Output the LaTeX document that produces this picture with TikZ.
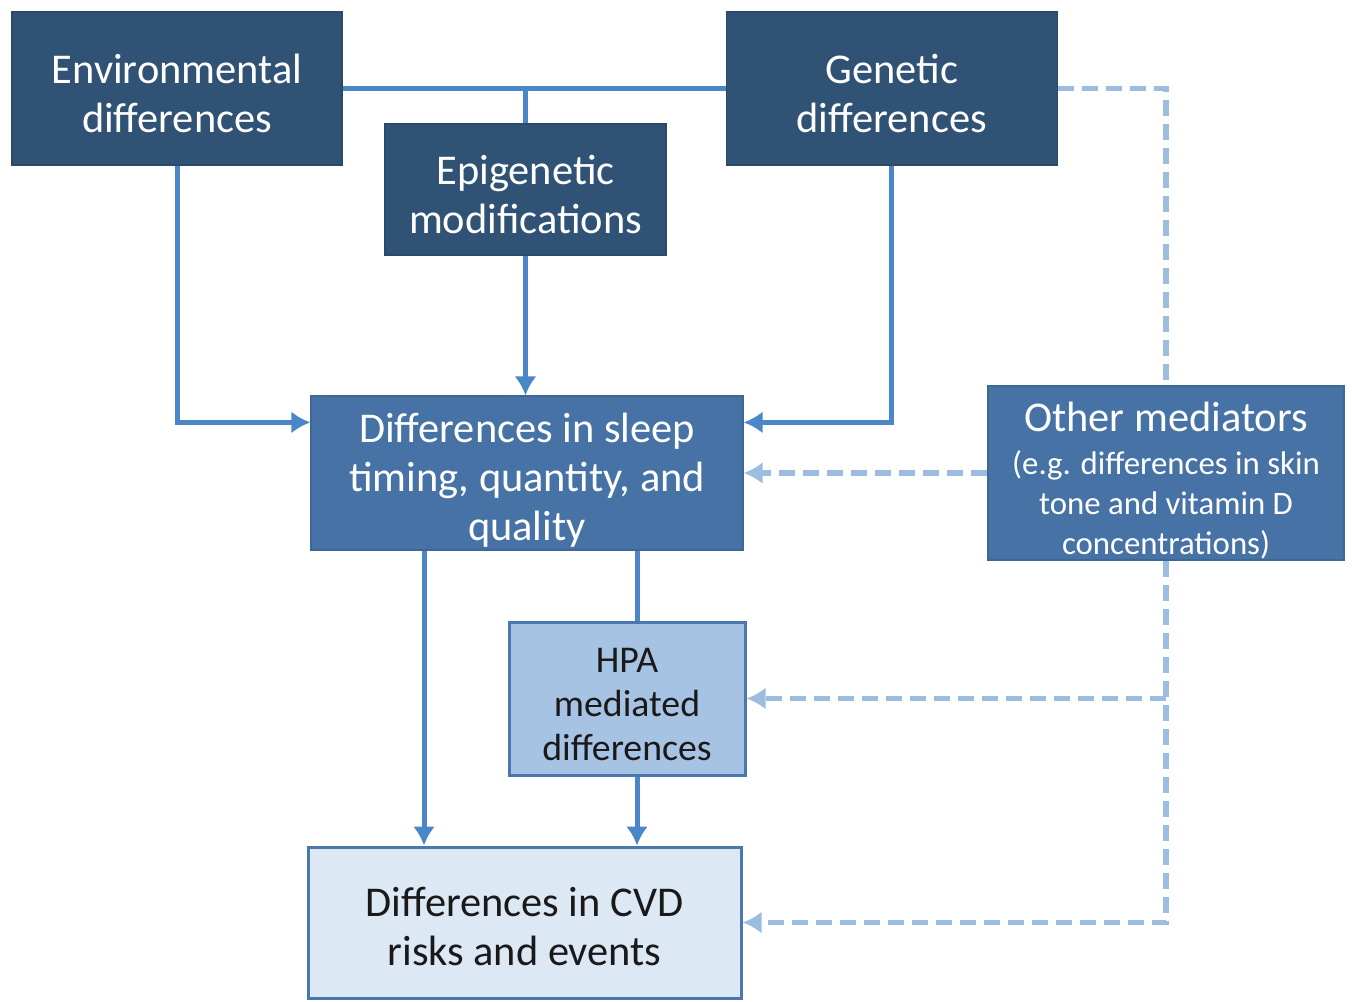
\documentclass[tikz,border=0pt]{standalone}
\usepackage{fontspec}
\setmainfont{Carlito}
\usepackage{xcolor}
\usetikzlibrary{arrows.meta, calc, positioning}
\definecolor{navy}{HTML}{2F5275}
\definecolor{midblue}{HTML}{4672A6}
\definecolor{paleblue}{HTML}{A7C3E4}
\definecolor{iceblue}{HTML}{DDE8F5}
\definecolor{rimblue}{HTML}{4A78AE}
\definecolor{linkblue}{HTML}{4A86C8}
\definecolor{dashblue}{HTML}{9DBDE0}
\newcommand\subtxt{\fontsize{16.4}{20}\selectfont}
% invisible strut that pushes the first line down a little
\newcommand\toppad[1]{\rule{0pt}{#1}}
\tikzset{
  % Box styles
  darkbox/.style={fill=navy, draw=navy!90!black, line width=0.6pt,
    text=white, align=center, inner sep=0pt},
  midbox/.style={fill=midblue, draw=midblue!90!black, line width=0.6pt,
    text=white, align=center, inner sep=0pt},
  lightbox/.style={draw=rimblue, line width=1.5pt, text=black!90,
    align=center, inner sep=0pt},
  % Graph arrow styles
  garr/.style={line width = 2.5pt, draw=linkblue},
  darr/.style={line width = 2.6pt, draw=dashblue,
    dash pattern=on 8pt off 4pt},
  arrtip/.style={-{Latex[length=9.5pt,width=11pt]}},
}

\begin{document}
\begin{tikzpicture}
          [x=0.5pt, y=-0.5pt,
           font=\fontsize{21.2}{24.5}\selectfont
          ]
          \useasboundingbox (0,0) rectangle (1352,1001);

          \node (env) [darkbox, minimum width=165pt, minimum height=76.5pt]
                at (177,88.5) {\toppad{20pt}Environmental\\differences};
          \node (gen) [darkbox
                      , minimum width=165.5pt
                      , minimum height=76.5pt
                      , right=191.5pt of env
                      ]
                      {\toppad{20pt}Genetic\\differences};
          \node (epi) [darkbox, minimum width=140.5pt, minimum height=65.5pt]
                at (525.5,189.5) {\toppad{20pt}Epigenetic\\modifications};

          \node (sleep) [midbox, minimum width=216pt, minimum height=77pt]
                at (527,473)
                {\toppad{22pt}Differences in sleep\\timing, quantity, and\\quality};
          \node (other) [midbox
                        , minimum width=178pt
                        , minimum height=87pt
                        , font=\fontsize{21.2}{20}\selectfont
                        ]
                        at (1166,473)
                        {\toppad{22pt}Other mediators\\[1.5pt]
                         \subtxt (e.g. differences in skin\\
                         \subtxt tone and vitamin D\\
                         \subtxt concentrations)};

          \node (hpa) [lightbox, fill=paleblue, minimum width=118pt,
                minimum height=76.5pt,
                font=\fontsize{18.9}{22}\selectfont]
                at (627,698.5) {\toppad{18pt}HPA\\mediated\\differences};
          \node (cvd) [lightbox, fill=iceblue, minimum width=216.5pt,
                minimum height=75.5pt]
                at (524.5,922.5) {\toppad{19pt}Differences in CVD\\risks and events};

          % solid links
          \draw[garr] (env) -- (gen);
          \draw[garr] (epi.north) -- (epi.north |- env.east);
          \draw[garr,arrtip] (env.south) |- ([yshift=-13.5pt]sleep.north west);
          \draw[garr,arrtip] (gen.south) |- ([yshift=-13.5pt]sleep.north east);
          \draw[garr,arrtip] (epi.south) -- (epi.south |- sleep.north);

          \coordinate (s1) at ([xshift=-51.5pt]sleep.south);
          \coordinate (h1) at ([xshift=5pt]hpa.north);
          \coordinate (h2) at ([xshift=5pt]hpa.south);
          \draw[garr,arrtip] (s1) -- (s1 |- cvd.north);
          \draw[garr] (h1 |- sleep.south) -- (h1);
          \draw[garr,arrtip] (h2) -- (h2 |- cvd.north);

          % dashed links
          \draw[darr] (gen.east) -| (other.north);
          \draw[darr,arrtip] (other.west) -- (sleep.east);
          \coordinate (oj) at (other.south |- hpa.east);
          \draw[darr,arrtip] (other.south) |- (cvd.east);
          \draw[darr,arrtip] (oj) -- (hpa.east);
      \end{tikzpicture}
\end{document}
